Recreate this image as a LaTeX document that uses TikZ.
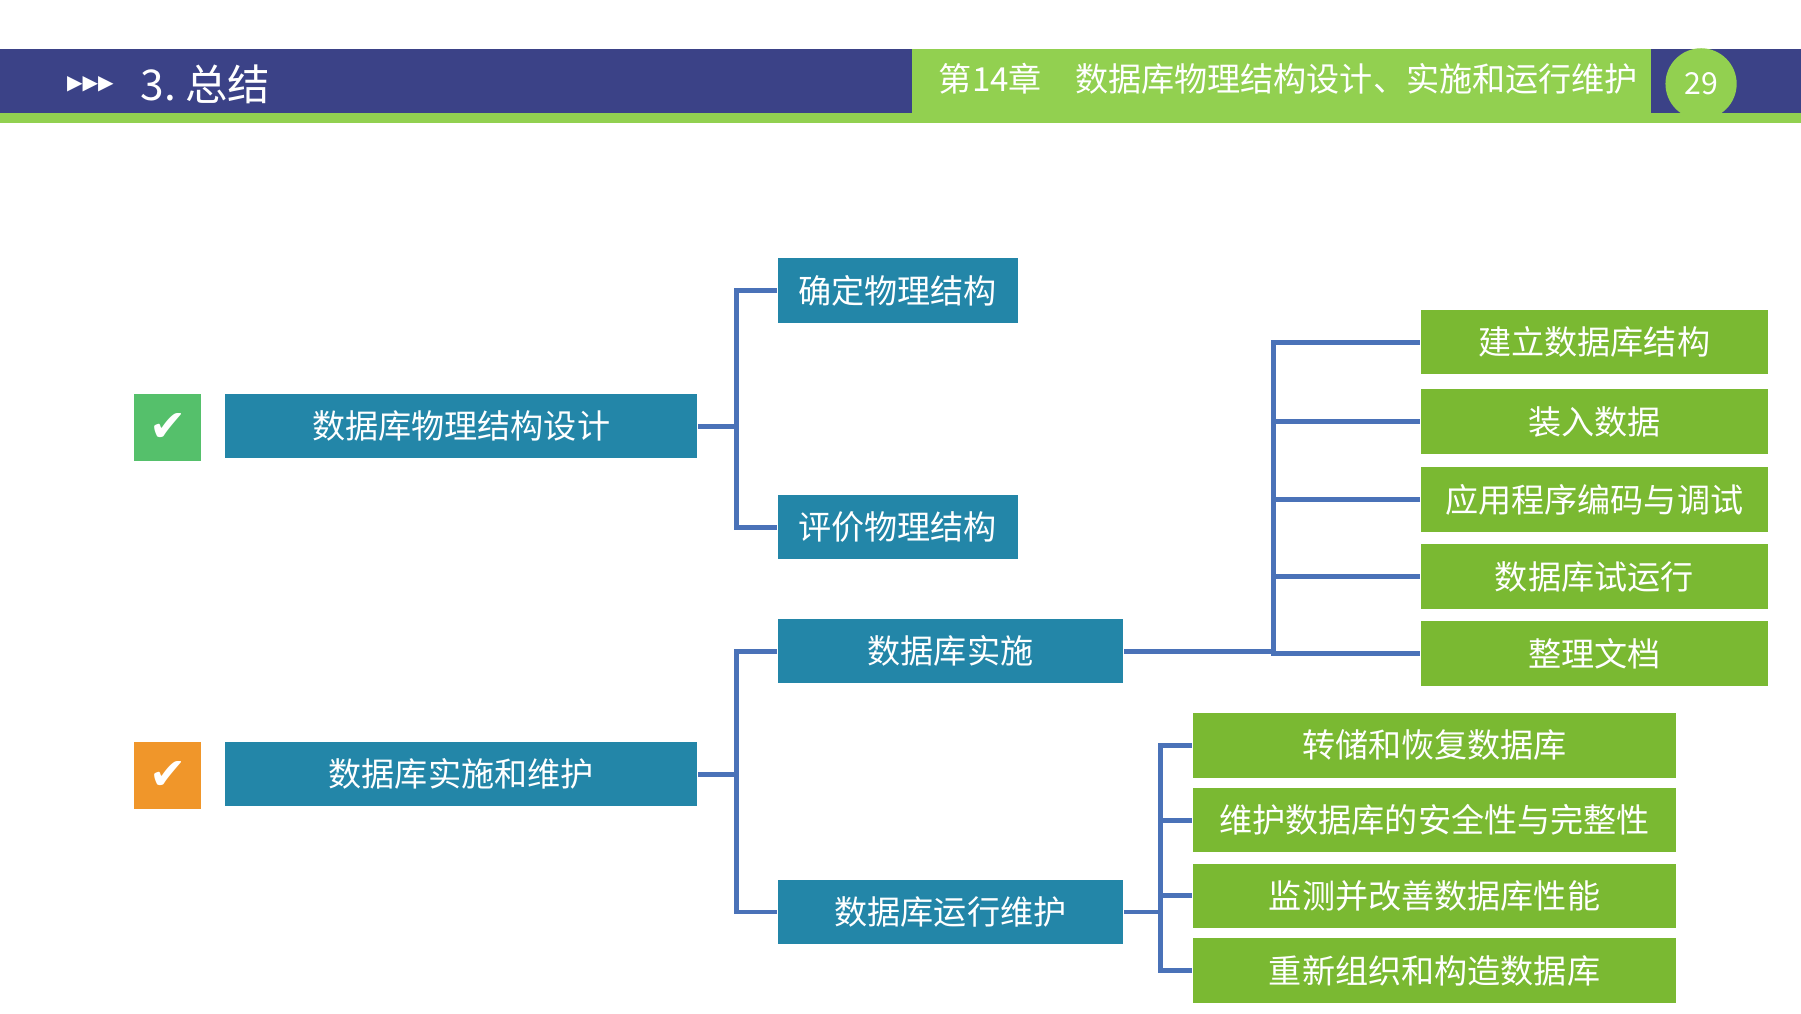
\documentclass[tikz,border=0pt]{standalone}
\usepackage{fontspec}
\setmainfont{Noto Sans CJK SC}
\newfontfamily\symfont{DejaVu Sans}
\usetikzlibrary{positioning}
\definecolor{barblue}{HTML}{3B4287}
\definecolor{bargreen}{HTML}{92D050}
\definecolor{boxblue}{HTML}{2386A8}
\definecolor{boxgreen}{HTML}{7AB932}
\definecolor{chkgreen}{HTML}{55C06B}
\definecolor{chkorange}{HTML}{F0962A}
\definecolor{linkblue}{HTML}{4A72B8}
\tikzset{
  bluebox/.style={fill=boxblue, text=white, font=\fontsize{8.2}{9}\selectfont, inner sep=0pt, minimum height=0.56cm},
  greenbox/.style={fill=boxgreen, text=white, font=\fontsize{8.2}{9}\selectfont, inner sep=0pt, minimum height=0.56cm},
  check/.style={minimum size=0.58cm, inner sep=0pt, text=white, font=\symfont\fontsize{11}{11}\selectfont},
  link/.style={linkblue, line width=1.2pt},
}
\begin{document}
\begin{tikzpicture}[x=0.01cm, y=-0.01cm]
  \useasboundingbox (0,0) rectangle (1568,882);
  % header
  \fill[barblue] (0,43) rectangle (1568,98);
  \fill[bargreen] (0,98) rectangle (1568,107);
  \fill[bargreen] (794,43) rectangle (1437,98);
  \fill[bargreen] (1481,73) circle (31);
  \node[text=white, font=\symfont\fontsize{5}{6}\selectfont, anchor=west] (tri) at (46,73) {▶▶▶};
  \node[text=white, font=\fontsize{10.5}{12}\selectfont, anchor=west] (title) at (110,73) {3.\ 总结};
  \node[text=white, font=\fontsize{8.2}{10}\selectfont, anchor=west] (chapter) at (805,69) {第14章\quad 数据库物理结构设计、实施和运行维护};
  \node[text=white, font=\fontsize{7.5}{9}\selectfont] (page) at (1481,73) {29};
  % left column
  \node[check, fill=chkgreen] (ck1) at (146,372) {✔};
  \node[check, fill=chkorange] (ck2) at (146,675) {✔};
  \node[bluebox, minimum width=4.11cm] (design) at (401.5,371) {数据库物理结构设计};
  \node[bluebox, minimum width=4.11cm] (impl) at (401.5,674) {数据库实施和维护};
  % middle column
  \node[bluebox, minimum width=2.09cm] (fix) at (781.5,253) {确定物理结构};
  \node[bluebox, minimum width=2.09cm] (eval) at (781.5,459) {评价物理结构};
  \node[bluebox, minimum width=3.01cm] (run) at (827.5,567) {数据库实施};
  \node[bluebox, minimum width=3.01cm] (keep) at (827.5,794) {数据库运行维护};
  % right column
  \node[greenbox, minimum width=3.02cm] (c1) at (1388,298) {建立数据库结构};
  \node[greenbox, minimum width=3.02cm] (c2) at (1388,367) {装入数据};
  \node[greenbox, minimum width=3.02cm] (c3) at (1388,435) {应用程序编码与调试};
  \node[greenbox, minimum width=3.02cm] (c4) at (1388,502) {数据库试运行};
  \node[greenbox, minimum width=3.02cm] (c5) at (1388,569) {整理文档};
  \node[greenbox, minimum width=4.20cm] (d1) at (1249,649) {转储和恢复数据库};
  \node[greenbox, minimum width=4.20cm] (d2) at (1249,714) {维护数据库的安全性与完整性};
  \node[greenbox, minimum width=4.20cm] (d3) at (1249,780) {监测并改善数据库性能};
  \node[greenbox, minimum width=4.20cm] (d4) at (1249,845) {重新组织和构造数据库};
  % connectors
  \coordinate (busa) at (641,0);
  \coordinate (busb) at (1109,0);
  \coordinate (busc) at (1010,0);
  \foreach \t in {fix, eval}
    \draw[link] (design.east) -| (busa |- design.east) |- (\t.west);
  \foreach \t in {run, keep}
    \draw[link] (impl.east) -| (busa |- impl.east) |- (\t.west);
  \foreach \t in {c1, c2, c3, c4, c5}
    \draw[link] (run.east) -| (busb |- run.east) |- (\t.west);
  \foreach \t in {d1, d2, d3, d4}
    \draw[link] (keep.east) -| (busc |- keep.east) |- (\t.west);
\end{tikzpicture}
\end{document}
